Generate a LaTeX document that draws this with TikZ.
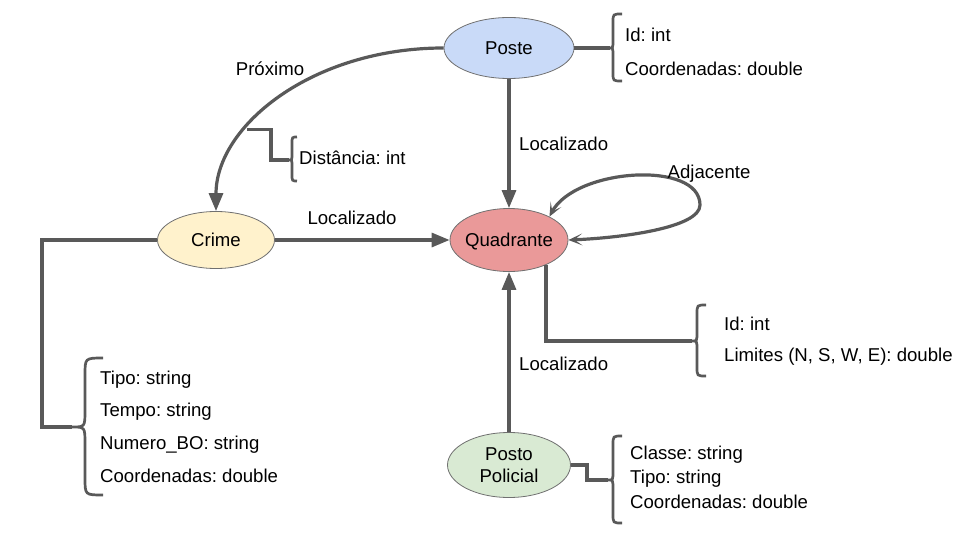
\documentclass[tikz,border=0pt]{standalone}
\usepackage{fontspec}
\setmainfont{Liberation Sans}
\usetikzlibrary{arrows.meta,shapes.geometric}
\definecolor{edgec}{HTML}{595959}
\definecolor{bordc}{HTML}{707070}
\definecolor{posteC}{HTML}{C9DAF8}
\definecolor{crimeC}{HTML}{FFF2CC}
\definecolor{quadC}{HTML}{EA9999}
\definecolor{postoC}{HTML}{D9EAD3}
\frenchspacing
\newcommand\attrbrace[7]{% x, top, mid, bottom, hook x, tip x, radius
  \draw[brc] (#5,#2) .. controls (#1,#2) .. (#1,{#2+#7}) -- (#1,{#3-#7})
    .. controls (#1,#3) .. (#6,#3) .. controls (#1,#3) .. (#1,{#3+#7})
    -- (#1,{#4-#7}) .. controls (#1,#4) .. (#5,#4);}
\begin{document}
\begin{tikzpicture}[x=1pt,y=-1pt,font=\fontsize{18.6}{22}\selectfont,
  ent/.style={ellipse,draw=bordc,line width=0.8pt,inner xsep=-8pt,inner ysep=0pt,align=center},
  one/.style={text height=13.3pt,text depth=0pt},
  link/.style={draw=edgec,line width=3.2pt},
  arr/.style={link,-{Triangle[length=18pt,width=14pt]}},
  lab/.style={inner sep=0pt,text height=13.3pt,text depth=0pt},
  attr/.style={lab,anchor=west},
  brc/.style={draw=edgec,line width=2.7pt}]
\useasboundingbox (0,0) rectangle (960,540);
% entities
\node[ent,one,fill=posteC,minimum width=130pt,minimum height=61pt] (Poste) at (509,48) {Poste};
\node[ent,one,fill=crimeC,minimum width=117pt,minimum height=57pt] (Crime) at (216,240) {Crime};
\node[ent,one,fill=quadC,minimum width=118pt,minimum height=63pt] (Quadrante) at (509,240) {Quadrante};
\node[ent,fill=postoC,minimum width=123pt,minimum height=65pt] (Posto) at (509,465) {Posto\\Policial};
% relations
\draw[arr] (Poste) -- (Quadrante);
\draw[arr] (Crime) -- (Quadrante);
\draw[arr] (Posto) -- (Quadrante);
\draw[arr] (Poste.west) .. controls (312,48) and (216,126) .. (Crime.north) coordinate[pos=0.66] (dk);
\draw[link,{Stealth[length=14pt,width=12pt,inset=8pt]}-{Stealth[length=14pt,width=12pt,inset=8pt]}]
  (Quadrante.30) .. controls (575,168) and (700,160) .. (700,205)
  .. controls (700,228) and (620,238) .. (Quadrante.east);
% relation labels
\node[lab] (lProx) at (270,69) {Próximo};
\node[lab,anchor=west] (lLoc1) at (519,144) {Localizado};
\node[lab] (lLoc2) at (352,218) {Localizado};
\node[lab,anchor=west] (lLoc3) at (519,364) {Localizado};
\node[lab] (lAdj) at (709,172) {Adjacente};
% attribute connectors
\draw[link] (Poste.east) -- (610,48);
\draw[link] (dk) -| (271,160) -- (289,160);
\draw[link] (Crime.west) -| (42,427) -- (72,427);
\draw[link] (Quadrante.-34) |- (692,341);
\draw[link] (Posto.east) -| (587,480) -- (608,480);
% braces
\attrbrace{613}{14}{48}{81}{622}{609}{8}
\attrbrace{292}{137}{160}{181}{297}{289}{7}
\attrbrace{85}{358}{427}{495}{103}{72}{17}
\attrbrace{697}{305}{341}{376}{706}{692}{9}
\attrbrace{613}{436}{480}{523}{622}{608}{9}
% attributes
\node[attr] (pa1) at (625,35) {Id: int};
\node[attr] (pa2) at (625,69) {Coordenadas: double};
\node[attr] (da1) at (299,158) {Distância: int};
\node[attr] (ca1) at (100,378) {Tipo: string};
\node[attr] (ca2) at (100,410) {Tempo: string};
\node[attr] (ca3) at (100,443) {Numero\_BO: string};
\node[attr] (ca4) at (100,476) {Coordenadas: double};
\node[attr] (qa1) at (724,324) {Id: int};
\node[attr] (qa2) at (724,355) {Limites (N, S, W, E): double};
\node[attr] (sa1) at (630,453) {Classe: string};
\node[attr] (sa2) at (630,477) {Tipo: string};
\node[attr] (sa3) at (630,502) {Coordenadas: double};
\end{tikzpicture}
\end{document}
